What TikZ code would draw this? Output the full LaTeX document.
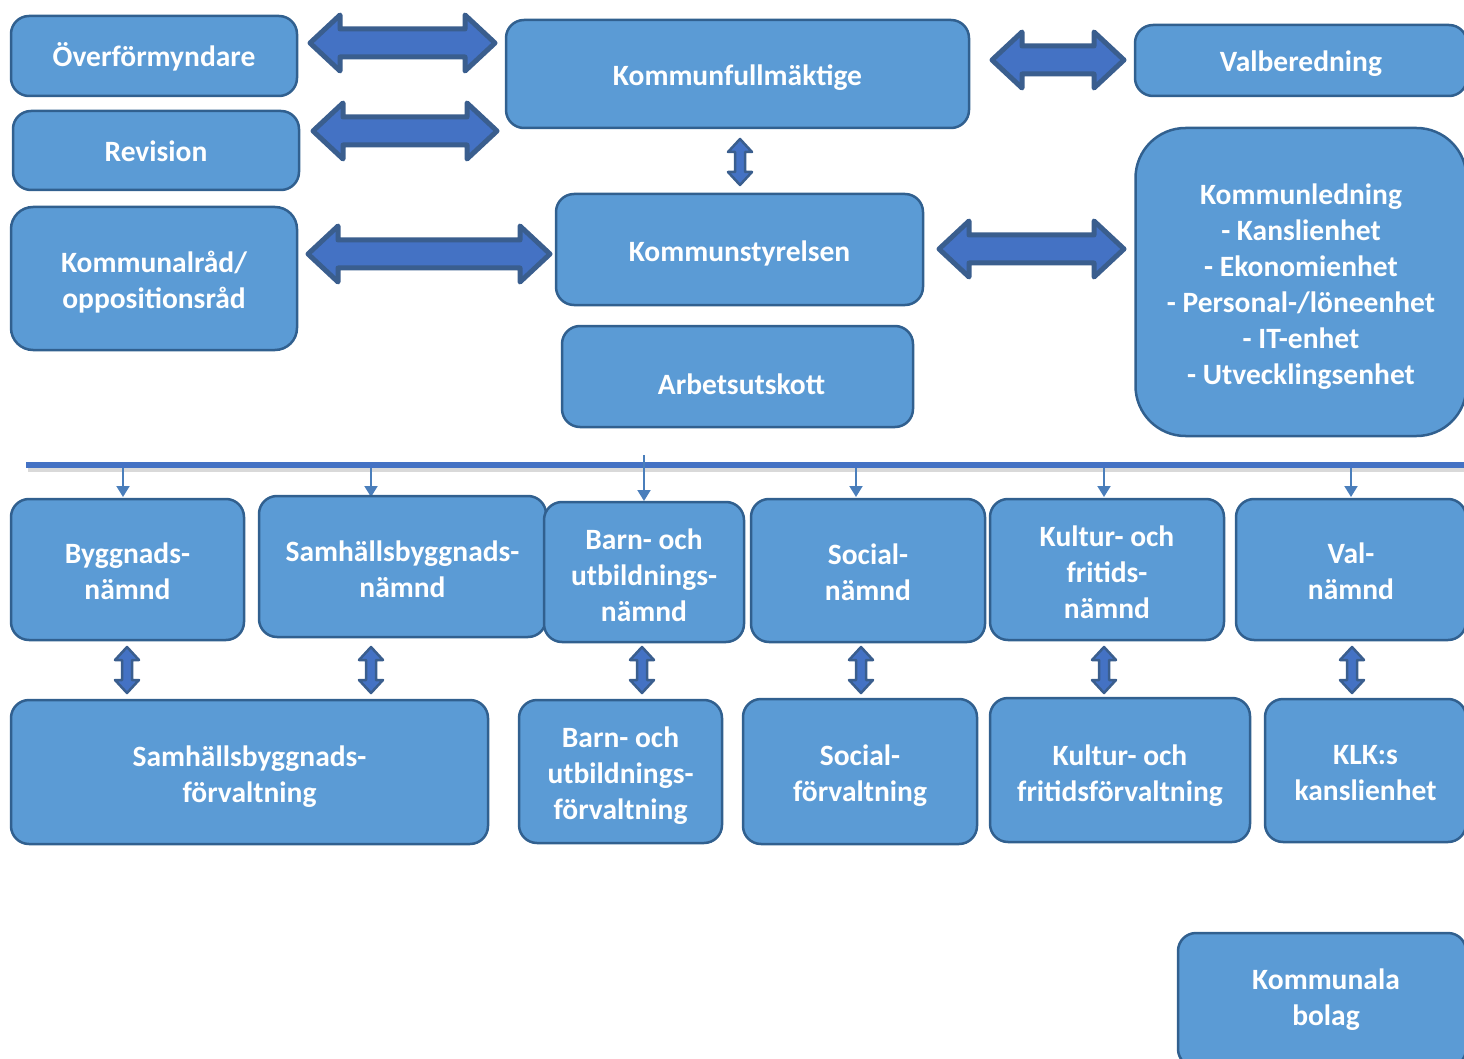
\documentclass[tikz,border=0pt]{standalone}
\usepackage{fontspec}
\setmainfont{Carlito}
\usetikzlibrary{arrows.meta}
\definecolor{boxfill}{HTML}{5B9BD5}
\definecolor{boxline}{HTML}{31608F}
\definecolor{arrfill}{HTML}{4472C4}
\definecolor{arrline}{HTML}{3A5E8E}
\definecolor{smallarr}{HTML}{4A7EBB}
\newcommand\lw[2]{\raisebox{-#1}[\height][\depth]{\begin{tabular}{@{}c@{}}#2\end{tabular}}}
\tikzset{
  orgbox/.style={draw=boxline, fill=boxfill, line width=2.5pt, rounded corners=18pt,
    text=white, font=\fontsize{29.5}{36}\selectfont\bfseries, inner sep=0pt},
  barrow/.style={draw=arrline, fill=arrfill, line width=5pt, line join=round},
  vbarrow/.style={draw=arrline, fill=arrfill, line width=2.5pt, line join=round},
  downarr/.style={draw=smallarr, line width=2pt, -{Triangle[width=13pt,length=11pt]}},
}
\newcommand\hdarrow[3]{%
  \draw[barrow] (#1+3,#3) -- ({#1+33},{#3-28}) -- ({#1+33},{#3-14}) -- ({#2-33},{#3-14})
   -- ({#2-33},{#3-28}) -- (#2-3,#3) -- ({#2-33},{#3+28}) -- ({#2-33},{#3+14})
   -- ({#1+33},{#3+14}) -- ({#1+33},{#3+28}) -- cycle;}
\newcommand\vdarrow[3]{%
  \draw[vbarrow] (#1,#2+1) -- ({#1+12},{#2+14}) -- ({#1+5},{#2+14}) -- ({#1+5},{#3-14})
   -- ({#1+12},{#3-14}) -- (#1,#3-1) -- ({#1-12},{#3-14}) -- ({#1-5},{#3-14})
   -- ({#1-5},{#2+14}) -- ({#1-12},{#2+14}) -- cycle;}
\begin{document}
\begin{tikzpicture}[x=1pt,y=-1pt]
\useasboundingbox (0,0) rectangle (1464,1059);
% horizontal bar
\draw[line width=5pt, black!15] (28,469) -- (1464,469);
\draw[line width=6pt, arrfill] (26,465) -- (1464,465);
% small down arrows
\foreach \x in {123,371,856,1104,1351} \draw[downarr] (\x,468) -- (\x,497);
\draw[downarr] (644,455) -- (644,501);
% top area boxes
\node[orgbox, minimum width=286pt, minimum height=80pt] (over) at (154,56) {\lw{3.5pt}{Överförmyndare}};
\node[orgbox, minimum width=286pt, minimum height=79pt] (rev) at (156,150.5) {\lw{4pt}{Revision}};
\node[orgbox, minimum width=286pt, minimum height=143pt, rounded corners=22pt] (krad) at (154,278.5) {\lw{4.5pt}{Kommunalråd/\\oppositionsråd}};
\node[orgbox, minimum width=463pt, minimum height=108pt] (kf) at (737.5,74) {\lw{4pt}{Kommunfullmäktige}};
\node[orgbox, minimum width=332pt, minimum height=71pt] (valb) at (1301,60.5) {\lw{3.5pt}{Valberedning}};
\node[orgbox, minimum width=367pt, minimum height=111pt] (ks) at (739.5,249.5) {\lw{5pt}{Kommunstyrelsen}};
\node[orgbox, minimum width=351pt, minimum height=101pt] (arb) at (737.5,376.5) {\lw{11pt}{\hspace*{8pt}Arbetsutskott}};
\node[orgbox, minimum width=331pt, minimum height=308pt, rounded corners=50pt] (kled) at (1301,282) {\lw{5pt}{Kommunledning\\- Kanslienhet\\- Ekonomienhet\\- Personal-/löneenhet\\- IT-enhet\\- Utvecklingsenhet}};
% row 2
\node[orgbox, minimum width=233pt, minimum height=141pt] (bygg) at (127.5,569.5) {\lw{5pt}{Byggnads-\\nämnd}};
\node[orgbox, minimum width=287pt, minimum height=141pt] (samn) at (402.5,566.5) {\lw{5.5pt}{Samhällsbyggnads-\\nämnd}};
\node[orgbox, minimum width=200pt, minimum height=140pt] (barnn) at (644,572) {\lw{6pt}{Barn- och\\utbildnings-\\nämnd}};
\node[orgbox, minimum width=234pt, minimum height=143pt] (socn) at (868,570.5) {\lw{5pt}{Social-\\nämnd}};
\node[orgbox, minimum width=234pt, minimum height=141pt] (kultn) at (1107,569.5) {\lw{6pt}{Kultur- och\\fritids-\\nämnd}};
\node[orgbox, minimum width=230pt, minimum height=141pt] (valn) at (1351,569.5) {\lw{5pt}{Val-\\nämnd}};
% row 3
\node[orgbox, minimum width=477pt, minimum height=144pt] (samf) at (249.5,772) {\lw{5pt}{Samhällsbyggnads-\\förvaltning}};
\node[orgbox, minimum width=203pt, minimum height=143pt] (barnf) at (620.5,771.5) {\lw{5pt}{Barn- och\\utbildnings-\\förvaltning}};
\node[orgbox, minimum width=234pt, minimum height=145pt] (socf) at (860,771.5) {\lw{5pt}{Social-\\förvaltning}};
\node[orgbox, minimum width=260pt, minimum height=144pt] (kultf) at (1120,770) {\lw{6pt}{Kultur- och\\fritidsförvaltning}};
\node[orgbox, minimum width=201pt, minimum height=143pt] (klk) at (1365.5,770.5) {\lw{5pt}{KLK:s\\kanslienhet}};
\node[orgbox, minimum width=288pt, minimum height=134pt] (bolag) at (1322,1000) {\lw{0pt}{\hspace*{8pt}Kommunala\\\hspace*{8pt}bolag}};
% block arrows
\hdarrow{307}{498}{43}
\hdarrow{310}{500}{131}
\hdarrow{305}{553}{254}
\hdarrow{989}{1127}{60}
\hdarrow{936}{1127}{249}
\vdarrow{740}{138}{186}
\foreach \x in {127,371,642,861,1104,1352} {\vdarrow{\x}{646}{694}}
\end{tikzpicture}
\end{document}
